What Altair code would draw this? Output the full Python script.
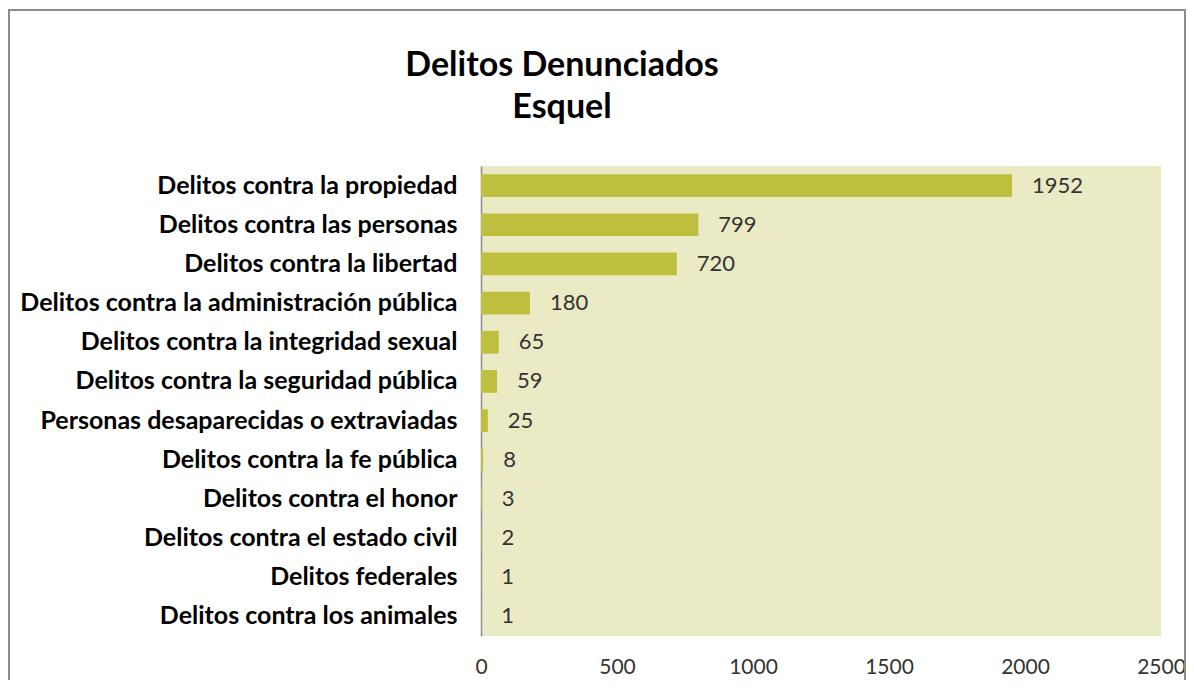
import altair as alt
import pandas as pd

categorias = [
    "Delitos contra la propiedad",
    "Delitos contra las personas",
    "Delitos contra la libertad",
    "Delitos contra la administración pública",
    "Delitos contra la integridad sexual",
    "Delitos contra la seguridad pública",
    "Personas desaparecidas o extraviadas",
    "Delitos contra la fe pública",
    "Delitos contra el honor",
    "Delitos contra el estado civil",
    "Delitos federales",
    "Delitos contra los animales",
]
valores = [1952, 799, 720, 180, 65, 59, 25, 8, 3, 2, 1, 1]
x_ticks = [0, 500, 1000, 1500, 2000, 2500]

df = pd.DataFrame({"categoria": categorias, "valor": valores})

FONT = "Lato"
BAR = "#BFBF3F"
BG = "#EAEAC4"

W, H = 680, 470

y_enc = alt.Y(
    "categoria:N",
    sort=categorias,
    scale=alt.Scale(paddingInner=0.42, paddingOuter=0.21),
    axis=alt.Axis(
        title=None,
        ticks=False,
        domain=True,
        domainColor="#8c8c8c",
        domainWidth=1.5,
        labelFont=FONT,
        labelFontSize=25,
        labelFontWeight="bold",
        labelColor="#000000",
        labelPadding=24,
        labelLimit=700,
    ),
)
x_enc = alt.X(
    "valor:Q",
    scale=alt.Scale(domain=[0, 2500], nice=False),
    axis=alt.Axis(
        title=None,
        values=x_ticks,
        format="d",
        grid=False,
        domain=False,
        ticks=False,
        tickSize=0,
        labelFont=FONT,
        labelFontSize=21,
        labelColor="#333333",
        labelPadding=20,
        labelFlush=False,
    ),
)

bars = alt.Chart(df).mark_bar(color=BAR).encode(x=x_enc, y=y_enc)

labels = alt.Chart(df).mark_text(
    align="left", baseline="middle", dx=20, font=FONT, fontSize=22, color="#333333"
).encode(x="valor:Q", y=alt.Y("categoria:N", sort=categorias), text="valor:Q")

frame = alt.Chart(pd.DataFrame({"a": [0]})).mark_rect(
    fill=None, stroke="#8c8c8c", strokeWidth=2
).encode(
    x=alt.value(-472), x2=alt.value(W + 24), y=alt.value(-156), y2=alt.value(H + 100)
)

chart = (
    alt.layer(frame, bars, labels)
    .properties(
        width=W,
        height=H,
        background="white",
        title=alt.TitleParams(
            text=["Delitos Denunciados", "Esquel"],
            font=FONT,
            fontSize=34,
            fontWeight="bold",
            color="#000000",
            anchor="middle",
            dx=-259,
            dy=116,
            offset=0,
            lineHeight=42,
        ),
        padding={"left": 473, "top": 158, "right": 25, "bottom": 44},
        autosize=alt.AutoSizeParams(type="none"),
    )
    .configure_view(fill=BG, stroke=None)
)

chart.save("out.html", embed_options={"renderer": "svg", "actions": False})
